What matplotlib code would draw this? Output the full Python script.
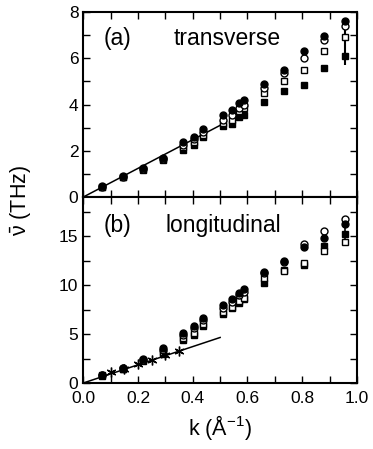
import numpy as np
import matplotlib
matplotlib.use("Agg")
import matplotlib.pyplot as plt
from matplotlib.ticker import MultipleLocator, FormatStrFormatter

plt.rcParams['font.family'] = ['Liberation Sans', 'DejaVu Sans']
plt.rcParams['mathtext.fontset'] = 'custom'
plt.rcParams['mathtext.rm'] = 'Liberation Sans'
plt.rcParams['mathtext.it'] = 'Liberation Sans:italic'

# wave vectors (1/Angstrom)
k = [0.069, 0.146, 0.219, 0.293, 0.366, 0.406, 0.439, 0.512, 0.543,
     0.570, 0.588, 0.662, 0.735, 0.807, 0.880, 0.957]

# (a) transverse frequencies (THz)
tr_filled_circ = [0.46, 0.90, 1.25, 1.70, 2.40, 2.60, 2.95, 3.55, 3.75, 4.05, 4.20, 4.90, 5.50, 6.30, 6.95, 7.60]
tr_open_circ = [0.45, 0.88, 1.22, 1.66, 2.25, 2.50, 2.80, 3.35, 3.55, 3.85, 4.00, 4.70, 5.35, 6.00, 6.80, 7.40]
tr_open_sq = [0.44, 0.87, 1.20, 1.64, 2.15, 2.40, 2.70, 3.20, 3.35, 3.70, 3.85, 4.50, 5.00, 5.50, 6.30, 6.90]
tr_filled_sq = [0.43, 0.86, 1.18, 1.62, 2.05, 2.25, 2.60, 3.05, 3.15, 3.45, 3.55, 4.10, 4.60, 4.85, 5.60, 6.10]

# (b) longitudinal frequencies (THz)
lo_filled_circ = [0.80, 1.55, 2.45, 3.60, 5.10, 5.80, 6.60, 7.95, 8.60, 9.20, 9.60, 11.30, 12.50, 13.90, 14.80, 16.20]
lo_open_circ = [0.80, 1.50, 2.35, 3.40, 4.90, 5.60, 6.40, 7.70, 8.30, 9.00, 9.30, 11.20, 12.40, 14.20, 15.50, 16.80]
lo_open_sq = [0.78, 1.45, 2.30, 3.20, 4.60, 5.10, 6.00, 7.30, 7.80, 8.40, 8.70, 10.70, 11.40, 12.30, 13.50, 14.40]
lo_filled_sq = [0.76, 1.40, 2.20, 3.00, 4.40, 4.90, 5.80, 7.10, 7.70, 8.20, 8.60, 10.20, 11.50, 12.10, 14.00, 15.20]

# low-k data (asterisks)
k_star = [0.10, 0.15, 0.20, 0.25, 0.30, 0.35]
lo_star = [1.10, 1.45, 1.90, 2.30, 2.90, 3.30]

# sound-velocity lines: slope (THz*A), k range
tr_slope = 6.2
lo_slope = 9.3
k_line = [0.0, 0.5]

fig = plt.figure(figsize=(3.73, 4.49), dpi=100)
ax1 = fig.add_axes([0.2233, 0.5612, 0.7337, 0.412])
ax2 = fig.add_axes([0.2233, 0.147, 0.7337, 0.4142])


def draw(ax, fc, oc, osq, fsq):
    ms = 5
    ax.plot(k, fsq, 's', color='black', ms=ms - 0.7, zorder=3)
    ax.plot(k, osq, 's', mfc='white', mec='black', mew=1.0, ms=ms - 0.7, zorder=3)
    ax.plot(k, oc, 'o', mfc='white', mec='black', mew=1.0, ms=ms, zorder=4)
    ax.plot(k, fc, 'o', color='black', ms=ms, zorder=4)


draw(ax1, tr_filled_circ, tr_open_circ, tr_open_sq, tr_filled_sq)
ax1.plot(k_line, [tr_slope * x for x in k_line], '-', color='black', lw=1.1)
ax1.errorbar([k[-1]], [tr_filled_sq[-1]], yerr=[[0.4], [1.4]], fmt='none',
             ecolor='black', elinewidth=1.5, capsize=0)
ax1.errorbar([k[-2]], [tr_open_circ[-2]], yerr=[[0.2], [0.3]], fmt='none',
             ecolor='black', elinewidth=1.2, capsize=0)

draw(ax2, lo_filled_circ, lo_open_circ, lo_open_sq, lo_filled_sq)
ax2.plot(k_star, lo_star, marker=(6, 2, 0), ls='none', color='black',
         ms=7, mew=1.0, zorder=5)
ax2.plot(k_line, [lo_slope * x for x in k_line], '-', color='black', lw=1.1)
ax2.errorbar([k[-1]], [lo_open_sq[-1]], yerr=[[0.4], [2.5]], fmt='none',
             ecolor='black', elinewidth=1.2, capsize=0)

for ax in (ax1, ax2):
    ax.set_xlim(0, 1.0)
    ax.xaxis.set_major_locator(MultipleLocator(0.2))
    ax.xaxis.set_minor_locator(MultipleLocator(0.1))
    ax.tick_params(which='both', direction='in', top=True, right=True,
                   labelsize=12.5, width=1.0, length=5)
    ax.tick_params(axis='x', pad=6)
    for s in ax.spines.values():
        s.set_linewidth(1.5)

ax1.set_ylim(0, 8)
ax1.yaxis.set_major_locator(MultipleLocator(2))
ax1.yaxis.set_minor_locator(MultipleLocator(1))
ax1.tick_params(labelbottom=False)

ax2.set_ylim(0, 19)
ax2.yaxis.set_major_locator(MultipleLocator(5))
ax2.yaxis.set_minor_locator(MultipleLocator(2.5))
ax2.xaxis.set_major_formatter(FormatStrFormatter('%.1f'))

ax1.text(0.075, 6.85, '(a)', fontsize=16.5, va='center')
ax1.text(0.33, 6.85, 'transverse', fontsize=16.5, va='center')
ax2.text(0.075, 16.1, '(b)', fontsize=16.5, va='center')
ax2.text(0.30, 16.1, 'longitudinal', fontsize=16.5, va='center')

ax2.set_xlabel(r'k ($\mathrm{\AA}^{-1}$)', fontsize=15.5, labelpad=5)
fig.text(0.058, 0.553, r'$\bar{\mathrm{\nu}}$ (THz)', rotation=90, fontsize=15.5,
         ha='center', va='center')

fig.savefig('out.png', dpi=100)
